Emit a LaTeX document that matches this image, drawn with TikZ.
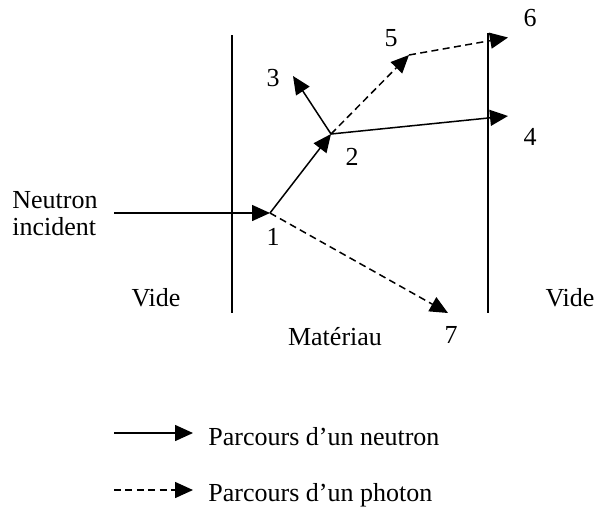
\documentclass[tikz,border=0pt]{standalone}
\usepackage{fontspec}
\setmainfont{Liberation Serif}
\usetikzlibrary{arrows.meta}
\tikzset{
  lbl/.style={inner sep=0pt, font=\fontsize{13}{15}\selectfont},
  neutronpath/.style={line width=0.75pt, -{Triangle[length=9pt,width=8pt]}},
  photonpath/.style={line width=0.75pt, dash pattern=on 3.5pt off 2.2pt, -{Triangle[length=9pt,width=8pt]}},
  wall/.style={line width=0.75pt}
}
\begin{document}
\begin{tikzpicture}[x=0.5pt,y=-0.5pt]
\useasboundingbox (0,0) rectangle (598,509);
% walls
\coordinate (wlt) at (232,35);
\coordinate (wlb) at (232,313);
\coordinate (wrt) at (488,33);
\coordinate (wrb) at (488,313);
\draw[wall] (wlt) -- (wlb);
\draw[wall] (wrt) -- (wrb);
% points
\coordinate (src) at (114,213);
\coordinate (p1) at (270,213);
\coordinate (p2) at (331,134);
\coordinate (p3) at (293,76);
\coordinate (p4) at (508,116);
\coordinate (p5) at (409,55);
\coordinate (p6) at (508,37.5);
\coordinate (p7) at (448,313);
\draw[neutronpath] (src) -- (p1);
\draw[neutronpath] (p1) -- (p2);
\draw[neutronpath] (p2) -- (p3);
\draw[neutronpath] (p2) -- (p4);
\draw[photonpath] (p2) -- (p5);
\draw[photonpath] (p5) -- (p6);
\draw[photonpath] (p1) -- (p7);
% labels
\node[lbl] (l1) at (273,237) {1};
\node[lbl] (l2) at (352,157) {2};
\node[lbl] (l3) at (273,78) {3};
\node[lbl] (l4) at (530,137) {4};
\node[lbl] (l5) at (391,38) {5};
\node[lbl] (l6) at (530,18) {6};
\node[lbl] (l7) at (451,335) {7};
\node[lbl, anchor=west, align=left] (inc) at (12,214) {Neutron\\[-1.5pt]incident};
\node[lbl] (vl) at (156,298) {Vide};
\node[lbl] (vr) at (570,298) {Vide};
\node[lbl] (mat) at (335,337) {Matériau};
% legend
\coordinate (la) at (114,433);
\coordinate (lb) at (193,433);
\coordinate (lc) at (114,490);
\coordinate (ld) at (193,490);
\draw[neutronpath] (la) -- (lb);
\draw[photonpath] (lc) -- (ld);
\node[lbl, anchor=base west] (tn) at (208,445) {Parcours d’un neutron};
\node[lbl, anchor=base west] (tp) at (208,501) {Parcours d’un photon};
\end{tikzpicture}
\end{document}
